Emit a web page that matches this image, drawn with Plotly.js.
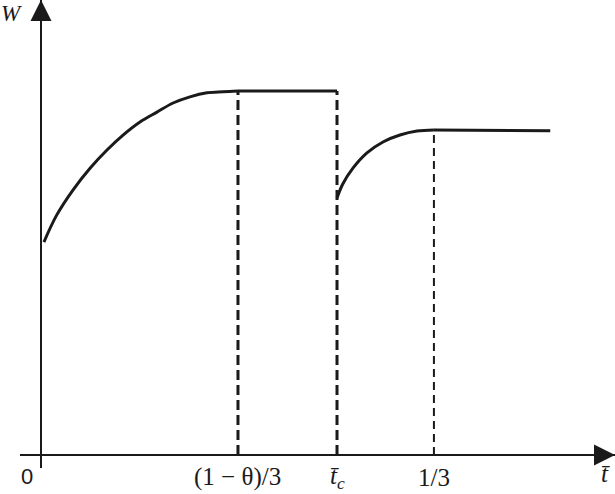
<!DOCTYPE html>
<html>
<head>
<meta charset="utf-8">
<script src="https://cdn.plot.ly/plotly-3.0.1.min.js"></script>
<style>
    html, body { margin: 0; padding: 0; background: #fff; }
    #chart { width: 615px; height: 494px; }
</style>
</head>
<body>
<div id="chart"></div>
<script>
// Welfare W against t-bar
const firstRiseT = [0.0025, 0.0133, 0.0271, 0.0416, 0.0560, 0.0696, 0.0840, 0.0984, 0.1120, 0.1264, 0.1408, 0.1544, 0.1671];
const firstRiseW = [0.585, 0.659, 0.728, 0.788, 0.838, 0.879, 0.915, 0.942, 0.967, 0.984, 0.995, 0.998, 1.000];

const plateauT = [0.1671, 0.2511];
const plateauW = [1.000, 1.000];

const secondRiseT = [0.2511, 0.2561, 0.2646, 0.2765, 0.2901, 0.3045, 0.3189, 0.3333];
const secondRiseW = [0.706, 0.745, 0.788, 0.830, 0.860, 0.879, 0.890, 0.893];

const tailT = [0.3333, 0.432];
const tailW = [0.893, 0.891];

// reference points on the t-bar axis and where their dashed guides stop
const markT = [0.1671, 0.2511, 0.3333];
const markTop = [1.000, 1.000, 0.893];
const markLabels = ['(1 − θ)/3', '<i>t̄</i><sub><i>c</i></sub>', '1/3'];

const xRange = [-0.0178, 0.4869];
const yRange = [-0.0357, 1.25];

const solid = { color: '#1a1a1a', width: 3 };

const traces = [
    { x: firstRiseT, y: firstRiseW, line: Object.assign({ shape: 'spline', smoothing: 1 }, solid) },
    { x: plateauT, y: plateauW, line: solid },
    { x: secondRiseT, y: secondRiseW, line: Object.assign({ shape: 'spline', smoothing: 1 }, solid) },
    { x: tailT, y: tailW, line: solid }
];

// dashed guides, the last one drawn thinner as in the figure
markT.forEach((t, i) => {
    traces.push({
        x: [t, t],
        y: [0, markTop[i]],
        line: { color: '#1a1a1a', width: i < 2 ? 3 : 2, dash: i < 2 ? '10px,5px' : '8px,5px' }
    });
});

// arrow heads at the ends of both axes
traces.push({
    x: [0, xRange[1]],
    y: [yRange[1], 0],
    mode: 'markers',
    marker: { symbol: ['arrow-up', 'arrow-right'], size: 21, color: '#1a1a1a' },
    cliponaxis: false
});

traces.forEach(tr => {
    tr.type = 'scatter';
    if (!tr.mode) tr.mode = 'lines';
    tr.showlegend = false;
    tr.hoverinfo = 'skip';
});

const serif = 'Liberation Serif, Times New Roman, serif';

const annotations = markT.map((t, i) => ({
    x: t, y: 0, xref: 'x', yref: 'y',
    yshift: -22,
    text: markLabels[i],
    showarrow: false,
    font: { family: serif, size: 25, color: '#1a1a1a' }
}));

annotations.push(
    { x: 0, y: 0, xref: 'x', yref: 'y', xshift: -14, yshift: -21, text: '0',
      showarrow: false, font: { family: 'Liberation Sans, Arial, sans-serif', size: 22, color: '#1a1a1a' } },
    { x: 0, y: yRange[1], xref: 'x', yref: 'y', xshift: -29, yshift: -13, text: '<i>W</i>',
      showarrow: false, font: { family: serif, size: 23, color: '#1a1a1a' } },
    { x: xRange[1], y: 0, xref: 'x', yref: 'y', xshift: -9, yshift: -18, text: '<i>t̄</i>',
      showarrow: false, font: { family: serif, size: 25, color: '#1a1a1a' } }
);

const layout = {
    width: 615,
    height: 494,
    margin: { l: 20, r: 0, t: 0, b: 26 },
    paper_bgcolor: '#ffffff',
    plot_bgcolor: '#ffffff',
    showlegend: false,
    xaxis: {
        range: xRange,
        showgrid: false, showticklabels: false, ticks: '',
        zeroline: true, zerolinecolor: '#1a1a1a', zerolinewidth: 2
    },
    yaxis: {
        range: yRange,
        showgrid: false, showticklabels: false, ticks: '',
        zeroline: true, zerolinecolor: '#1a1a1a', zerolinewidth: 2
    },
    annotations: annotations
};

Plotly.newPlot('chart', traces, layout, { staticPlot: true });
</script>
</body>
</html>
